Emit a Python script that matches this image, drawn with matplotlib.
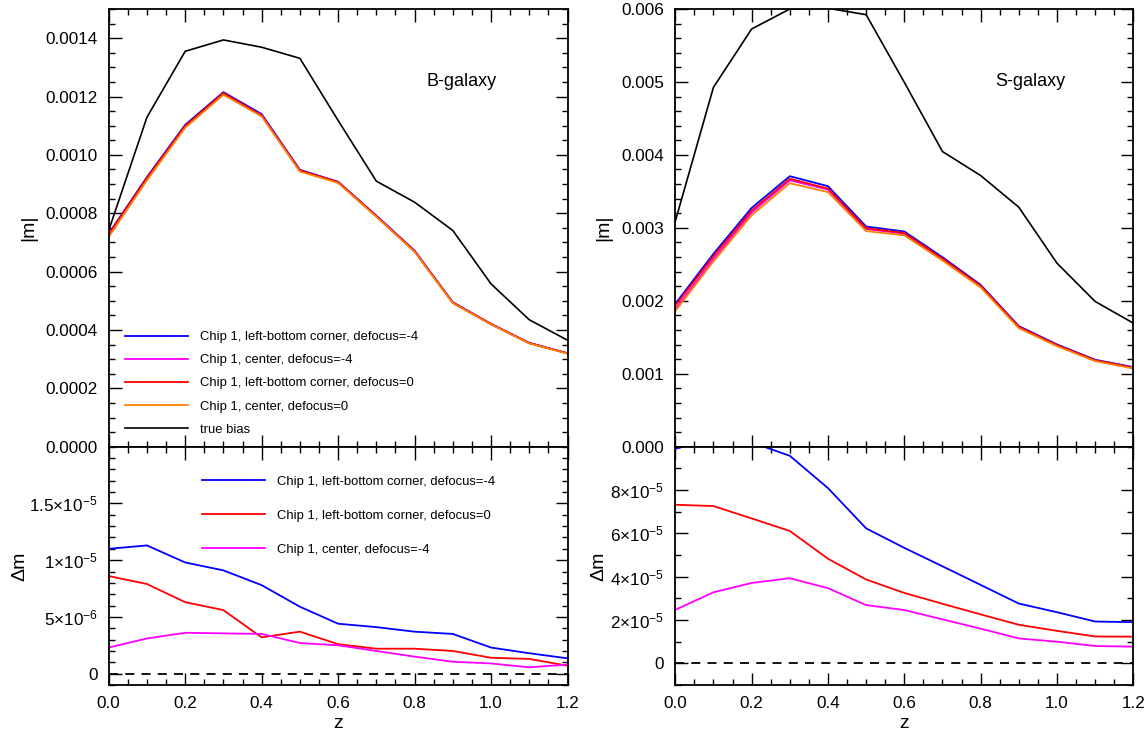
import matplotlib.pyplot as plt
from matplotlib.ticker import MultipleLocator

plt.rcParams['font.family'] = ['Liberation Sans', 'DejaVu Sans']
plt.rcParams['mathtext.fontset'] = 'custom'
plt.rcParams['mathtext.rm'] = 'Liberation Sans'
plt.rcParams['mathtext.it'] = 'Liberation Sans'

z = [0.0, 0.1, 0.2, 0.3, 0.4, 0.5, 0.6, 0.7, 0.8, 0.9, 1.0, 1.1, 1.2]

# B-galaxy |m|
b_corner_m4 = [0.000730, 0.000924, 0.001103, 0.001215, 0.001140, 0.000949, 0.000908,
               0.000792, 0.000672, 0.000495, 0.000421, 0.000356, 0.000320]
b_center_m4 = [0.000721, 0.000916, 0.001097, 0.001210, 0.001136, 0.000946, 0.000906,
               0.000790, 0.000670, 0.000493, 0.000420, 0.000355, 0.000320]
b_corner_0 = [0.000728, 0.000921, 0.001099, 0.001212, 0.001135, 0.000947, 0.000907,
              0.000790, 0.000670, 0.000494, 0.000420, 0.000355, 0.000320]
b_center_0 = [0.000719, 0.000913, 0.001093, 0.001206, 0.001132, 0.000943, 0.000904,
              0.000788, 0.000668, 0.000492, 0.000419, 0.000354, 0.000319]
b_true = [0.000741, 0.001129, 0.001355, 0.001394, 0.001369, 0.001331, 0.001118,
          0.000910, 0.000838, 0.000741, 0.000558, 0.000435, 0.000365]

# B-galaxy delta m
b_d_corner_m4 = [1.10e-5, 1.13e-5, 9.8e-6, 9.1e-6, 7.8e-6, 5.9e-6, 4.4e-6,
                 4.1e-6, 3.7e-6, 3.5e-6, 2.3e-6, 1.8e-6, 1.35e-6]
b_d_corner_0 = [8.6e-6, 7.9e-6, 6.3e-6, 5.6e-6, 3.2e-6, 3.7e-6, 2.6e-6,
                2.2e-6, 2.2e-6, 2.0e-6, 1.4e-6, 1.3e-6, 0.7e-6]
b_d_center_m4 = [2.3e-6, 3.1e-6, 3.6e-6, 3.55e-6, 3.5e-6, 2.7e-6, 2.5e-6,
                 2.0e-6, 1.5e-6, 1.05e-6, 0.9e-6, 0.56e-6, 0.8e-6]

# S-galaxy |m|
s_corner_m4 = [0.001959, 0.002644, 0.003274, 0.003708, 0.003571, 0.003018, 0.002950,
               0.002598, 0.002219, 0.001653, 0.001402, 0.001192, 0.001091]
s_center_m4 = [0.001885, 0.002573, 0.003209, 0.003651, 0.003525, 0.002983, 0.002922,
               0.002573, 0.002199, 0.001637, 0.001388, 0.001181, 0.001080]
s_corner_0 = [0.001933, 0.002613, 0.003239, 0.003673, 0.003538, 0.002995, 0.002930,
              0.002581, 0.002206, 0.001643, 0.001393, 0.001185, 0.001084]
s_center_0 = [0.001860, 0.002540, 0.003172, 0.003612, 0.003490, 0.002956, 0.002897,
              0.002553, 0.002183, 0.001625, 0.001378, 0.001173, 0.001072]
s_true = [0.003091, 0.004927, 0.005726, 0.006000, 0.006010, 0.005922, 0.004995,
          0.004046, 0.003717, 0.003283, 0.002516, 0.001991, 0.001694]

# S-galaxy delta m
s_d_corner_m4 = [9.9e-5, 1.04e-4, 1.02e-4, 9.58e-5, 8.09e-5, 6.23e-5, 5.33e-5,
                 4.48e-5, 3.62e-5, 2.76e-5, 2.36e-5, 1.93e-5, 1.90e-5]
s_d_corner_0 = [7.32e-5, 7.26e-5, 6.69e-5, 6.11e-5, 4.83e-5, 3.87e-5, 3.25e-5,
                2.75e-5, 2.26e-5, 1.78e-5, 1.50e-5, 1.24e-5, 1.23e-5]
s_d_center_m4 = [2.47e-5, 3.28e-5, 3.71e-5, 3.93e-5, 3.47e-5, 2.69e-5, 2.46e-5,
                 2.03e-5, 1.60e-5, 1.15e-5, 1.00e-5, 0.80e-5, 0.77e-5]

labels = ['Chip 1, left-bottom corner, defocus=-4', 'Chip 1, center, defocus=-4',
          'Chip 1, left-bottom corner, defocus=0', 'Chip 1, center, defocus=0', 'true bias']
colors = ['#0000ff', '#ff00ff', '#ff0000', '#ff8000', 'black']

W, H = 1147, 736
fig = plt.figure(figsize=(W / 100, H / 100), dpi=100)


def rect(x0, x1, y0, y1):
    return [x0 / W, 1 - y1 / H, (x1 - x0) / W, (y1 - y0) / H]


def style(ax, show_x):
    ax.set_xlim(0, 1.2)
    ax.xaxis.set_major_locator(MultipleLocator(0.2))
    ax.xaxis.set_minor_locator(MultipleLocator(0.05))
    ax.tick_params(which='both', direction='in', top=True, right=True,
                   labelsize=12.3, pad=8, width=1)
    ax.tick_params(which='major', length=9)
    ax.tick_params(which='minor', length=4.5)
    for s in ax.spines.values():
        s.set_linewidth(1.3)
    if show_x:
        ax.set_xticks([0, 0.2, 0.4, 0.6, 0.8, 1.0, 1.2])
        ax.set_xticklabels(['0.0', '0.2', '0.4', '0.6', '0.8', '1.0', '1.2'])
        ax.set_xlabel('z', fontsize=14, va='top')
        ax.xaxis.set_label_coords(0.5, -0.125)
    else:
        ax.tick_params(labelbottom=False)


ax1 = fig.add_axes(rect(108.7, 567.5, 9, 446.7))
ax2 = fig.add_axes(rect(108.7, 567.5, 446.7, 685))
ax3 = fig.add_axes(rect(675.3, 1133.3, 9, 446.7))
ax4 = fig.add_axes(rect(675.3, 1133.3, 446.7, 685))

# top left
series = [b_corner_m4, b_center_m4, b_corner_0, b_center_0, b_true]
for ys, c, lab in zip(series, colors, labels):
    ax1.plot(z, ys, color=c, lw=1.3 if c != 'black' else 1.2, label=lab)
style(ax1, False)
ax1.set_ylim(0, 0.0015)
ticks1 = [0, 0.0002, 0.0004, 0.0006, 0.0008, 0.0010, 0.0012, 0.0014]
ax1.set_yticks(ticks1)
ax1.set_yticklabels(['%.4f' % v for v in ticks1])
ax1.yaxis.set_minor_locator(MultipleLocator(0.00005))
ax1.set_ylabel('|m|', fontsize=14)
ax1.yaxis.set_label_coords(-0.156, 0.5)
ax1.text(0.770, 0.835, 'B-galaxy', transform=ax1.transAxes, fontsize=13, ha='center', va='center')
ax1.legend(loc='upper left', bbox_to_anchor=(0.0355, 0.264), frameon=False, fontsize=9.4,
           handlelength=4.85, handletextpad=0.9, labelspacing=0.84, borderpad=0, borderaxespad=0)

# bottom left
for ys, c, lab in zip([b_d_corner_m4, b_d_corner_0, b_d_center_m4],
                      ['#0000ff', '#ff0000', '#ff00ff'],
                      [labels[0], labels[2], labels[1]]):
    ax2.plot(z, ys, color=c, lw=1.3, label=lab)
ax2.axhline(0, color='black', lw=1.3, dashes=(5, 4))
style(ax2, True)
ax2.set_ylim(-1e-6, 2e-5)
ax2.set_yticks([0, 5e-6, 1e-5, 1.5e-5])
ax2.set_yticklabels(['0', '5×10$^{-6}$', '1×10$^{-5}$', '1.5×10$^{-5}$'])
ax2.yaxis.set_minor_locator(MultipleLocator(1e-6))
ax2.set_ylabel('Δm', fontsize=14)
ax2.yaxis.set_label_coords(-0.176, 0.5)
ax2.legend(loc='upper left', bbox_to_anchor=(0.2034, 0.878), frameon=False, fontsize=9.4,
           handlelength=4.85, handletextpad=0.9, labelspacing=1.68, borderpad=0, borderaxespad=0)

# top right
series = [s_corner_m4, s_center_m4, s_corner_0, s_center_0, s_true]
for ys, c in zip(series, colors):
    ax3.plot(z, ys, color=c, lw=1.3 if c != 'black' else 1.2)
style(ax3, False)
ax3.set_ylim(0, 0.006)
ticks3 = [0, 0.001, 0.002, 0.003, 0.004, 0.005, 0.006]
ax3.set_yticks(ticks3)
ax3.set_yticklabels(['%.3f' % v for v in ticks3])
ax3.yaxis.set_minor_locator(MultipleLocator(0.0002))
ax3.set_ylabel('|m|', fontsize=14)
ax3.yaxis.set_label_coords(-0.138, 0.5)
ax3.text(0.774, 0.835, 'S-galaxy', transform=ax3.transAxes, fontsize=13, ha='center', va='center')

# bottom right
for ys, c in zip([s_d_corner_m4, s_d_corner_0, s_d_center_m4],
                 ['#0000ff', '#ff0000', '#ff00ff']):
    ax4.plot(z, ys, color=c, lw=1.3)
ax4.axhline(0, color='black', lw=1.3, dashes=(5, 4))
style(ax4, True)
ax4.set_ylim(-1e-5, 1e-4)
ax4.set_yticks([0, 2e-5, 4e-5, 6e-5, 8e-5])
ax4.set_yticklabels(['0', '2×10$^{-5}$', '4×10$^{-5}$', '6×10$^{-5}$', '8×10$^{-5}$'])
ax4.yaxis.set_minor_locator(MultipleLocator(1e-5))
ax4.set_ylabel('Δm', fontsize=14)
ax4.yaxis.set_label_coords(-0.149, 0.5)

fig.savefig('out.png', dpi=100)
